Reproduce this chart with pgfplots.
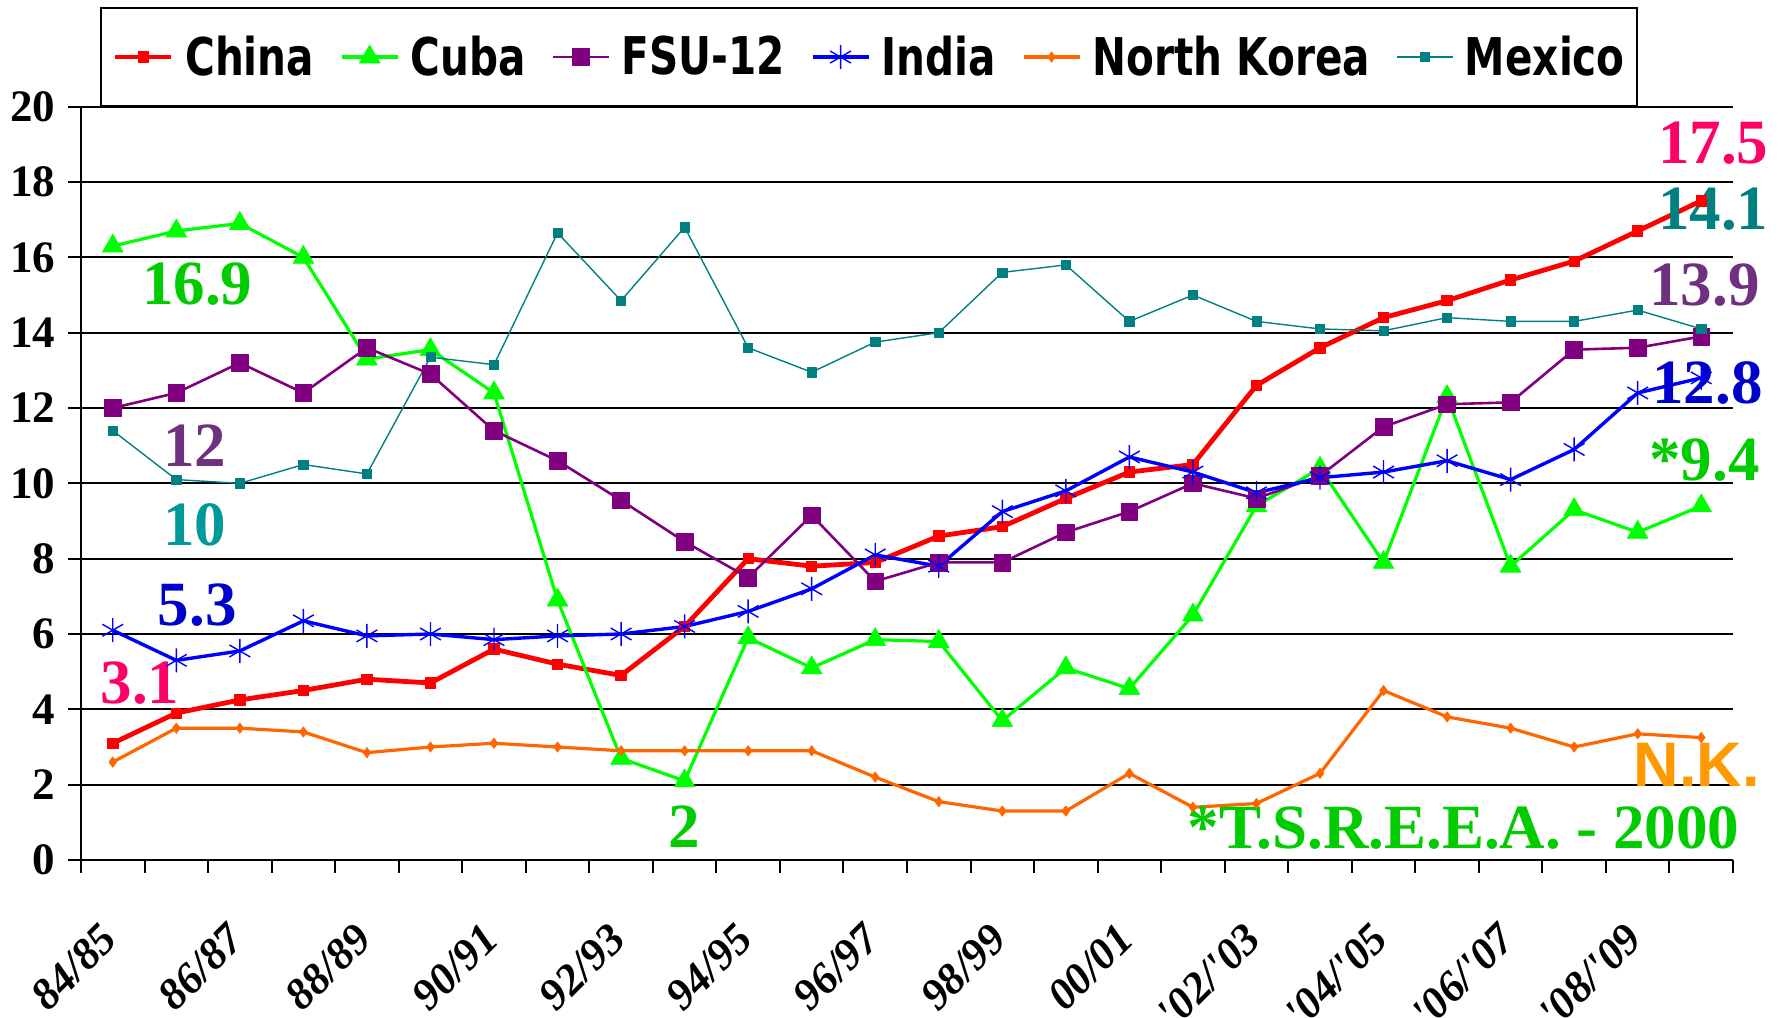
\documentclass[border=0pt]{standalone}
\usepackage{pgfplots}
\usepackage{pgfplotstable}
\pgfplotsset{compat=1.18}
\usepackage{fontspec}
\setmainfont{Liberation Serif}
\newfontfamily\legfont[FakeStretch=0.78]{DejaVu Sans}
\newfontfamily\nkfont{Liberation Sans}
\newfontfamily\xlabfont[Ligatures=TeXOff]{Liberation Serif}

\definecolor{chinaC}{RGB}{255,0,0}
\definecolor{cubaC}{RGB}{0,255,0}
\definecolor{fsuC}{RGB}{128,0,128}
\definecolor{indiaC}{RGB}{0,0,255}
\definecolor{nkC}{RGB}{255,102,0}
\definecolor{mexC}{RGB}{0,128,128}
\definecolor{annGreen}{RGB}{0,204,0}
\definecolor{annPurple}{RGB}{112,48,128}
\definecolor{annTealA}{RGB}{0,153,153}
\definecolor{annTealB}{RGB}{0,128,128}
\definecolor{annBlue}{RGB}{0,0,204}
\definecolor{annPink}{RGB}{255,0,102}
\definecolor{nkText}{RGB}{255,153,0}

\pgfplotstableread{
x china cuba fsu india nk mexico
0 3.1 16.3 12.0 6.1 2.6 11.4
1 3.9 16.7 12.4 5.3 3.5 10.1
2 4.25 16.9 13.2 5.55 3.5 10.0
3 4.5 16.0 12.4 6.35 3.4 10.5
4 4.8 13.3 13.6 5.95 2.85 10.25
5 4.7 13.55 12.9 6.0 3.0 13.35
6 5.6 12.4 11.4 5.85 3.1 13.15
7 5.2 6.9 10.6 5.95 3.0 16.65
8 4.9 2.7 9.55 6.0 2.9 14.85
9 6.2 2.1 8.45 6.2 2.9 16.8
10 8.0 5.9 7.5 6.6 2.9 13.6
11 7.8 5.1 9.15 7.2 2.9 12.95
12 7.9 5.85 7.4 8.1 2.2 13.75
13 8.6 5.8 7.9 7.8 1.55 14.0
14 8.85 3.7 7.9 9.25 1.3 15.6
15 9.6 5.1 8.7 9.8 1.3 15.8
16 10.3 4.55 9.25 10.7 2.3 14.3
17 10.5 6.5 10.0 10.3 1.4 15.0
18 12.6 9.4 9.6 9.75 1.5 14.3
19 13.6 10.4 10.2 10.15 2.3 14.1
20 14.4 7.9 11.5 10.3 4.5 14.05
21 14.85 12.3 12.1 10.6 3.8 14.4
22 15.4 7.8 12.15 10.1 3.5 14.3
23 15.9 9.3 13.55 10.9 3.0 14.3
24 16.7 8.7 13.6 12.4 3.35 14.6
25 17.5 9.4 13.9 12.8 3.25 14.1
}\datatable

\newcommand{\annfont}{\fontsize{31.5}{36}\selectfont\bfseries}

\begin{document}
\begin{tikzpicture}
\begin{axis}[
  at={(0,0)}, anchor=south west,
  scale only axis,
  width=826pt, height=376.65pt,
  xmin=-0.5, xmax=25.5,
  ymin=0, ymax=20,
  clip=false,
  axis x line*=bottom,
  axis y line*=left,
  axis line style={black, line width=1pt, -},
  ytick={0,2,...,20},
  ymajorgrids,
  major y grid style={black, line width=1pt},
  tick align=outside,
  major tick length=6.3pt,
  minor tick length=6.3pt,
  ytick style={black, line width=1pt},
  xtick={0,2,...,24},
  xticklabels={84/85,86/87,88/89,90/91,92/93,94/95,96/97,98/99,00/01,'02/'03,'04/'05,'06/'07,'08/'09},
  minor xtick={-0.5,0.5,...,25.5},
  major x tick style={draw=none},
  minor x tick style={black, line width=1pt},
  /pgf/number format/assume math mode=true,
  yticklabel style={font=\fontsize{22.5}{26}\selectfont\bfseries, xshift=-3pt},
  xticklabel style={font=\xlabfont\fontsize{22}{26}\selectfont\bfseries\itshape,
     inner sep=0pt, xshift=-7pt, yshift=-24pt, rotate=45, anchor=north east},
  legend columns=6,
  legend style={at={(rel axis cs:0,1)}, anchor=south west, xshift=9.65pt, yshift=0pt,
     draw=black, line width=0.8pt, inner xsep=6pt, inner ysep=13.8pt,
     font=\legfont\fontsize{26}{30}\selectfont\bfseries,
     nodes={inner sep=0pt, text depth=0.15em},
     /tikz/every odd column/.append style={column sep=5.7pt},
     /tikz/every even column/.append style={column sep=13pt}},
  legend image code/.code={\draw[mark repeat=2,mark phase=2] plot coordinates {(0pt,0pt) (14pt,0pt) (28pt,0pt)};},
]
\addplot[chinaC, line width=2.4pt, line join=round, mark=square*, mark size=2.6pt, mark options={solid, line width=0.4pt, fill=chinaC}] table[x=x, y=china] {\datatable};
\addlegendentry{China}
\addplot[cubaC, line width=1.6pt, line join=round, mark=triangle*, mark size=6pt, mark options={solid, line width=0.3pt, fill=cubaC}] table[x=x, y=cuba] {\datatable};
\addlegendentry{Cuba}
\addplot[fsuC, line width=1.3pt, line join=round, mark=square*, mark size=4.2pt, mark options={solid, line width=0.3pt, fill=fsuC}] table[x=x, y=fsu] {\datatable};
\addlegendentry{FSU-12}
\addplot[indiaC, line width=1.7pt, line join=round, mark=asterisk, mark size=6pt, mark options={solid, line width=0.7pt}] table[x=x, y=india] {\datatable};
\addlegendentry{India}
\addplot[nkC, line width=1.6pt, line join=round, mark=diamond*, mark size=2.6pt, mark options={solid, line width=0.3pt, fill=nkC}] table[x=x, y=nk] {\datatable};
\addlegendentry{North Korea}
\addplot[mexC, line width=0.7pt, line join=round, mark=square*, mark size=2.3pt, mark options={solid, line width=0.3pt, fill=mexC}] table[x=x, y=mexico] {\datatable};
\addlegendentry{Mexico}

\node[annGreen, font=\annfont, inner sep=0pt] at (axis cs:1.33,15.3) {16.9};
\node[annPurple, font=\annfont, inner sep=0pt] at (axis cs:1.29,11.0) {12};
\node[annTealA, font=\annfont, inner sep=0pt] at (axis cs:1.29,8.91) {10};
\node[annBlue, font=\annfont, inner sep=0pt] at (axis cs:1.33,6.77) {5.3};
\node[annPink, font=\annfont, inner sep=0pt] at (axis cs:0.43,4.71) {3.1};
\node[annGreen, font=\annfont, inner sep=0pt] at (axis cs:8.99,0.88) {2};
\node[annPink, font=\annfont, inner sep=0pt] at (axis cs:25.19,19.03) {17.5};
\node[annTealB, font=\annfont, inner sep=0pt] at (axis cs:25.19,17.28) {14.1};
\node[annPurple, font=\annfont, inner sep=0pt] at (axis cs:25.05,15.26) {13.9};
\node[annBlue, font=\annfont, inner sep=0pt] at (axis cs:25.1,12.66) {12.8};
\node[annGreen, font=\annfont, inner sep=0pt] at (axis cs:25.05,10.63) {*9.4};
\node[nkText, font=\nkfont\fontsize{31.5}{36}\selectfont\bfseries, inner sep=0pt] at (axis cs:24.93,2.54) {N.K.};
\node[annGreen, font=\annfont, inner sep=0pt] at (axis cs:21.26,0.85) {*T.S.R.E.E.A. - 2000};
\end{axis}
\pgfresetboundingbox
\path[use as bounding box] (-40.5pt,-79pt) rectangle (852pt,430pt);
\end{tikzpicture}
\end{document}
